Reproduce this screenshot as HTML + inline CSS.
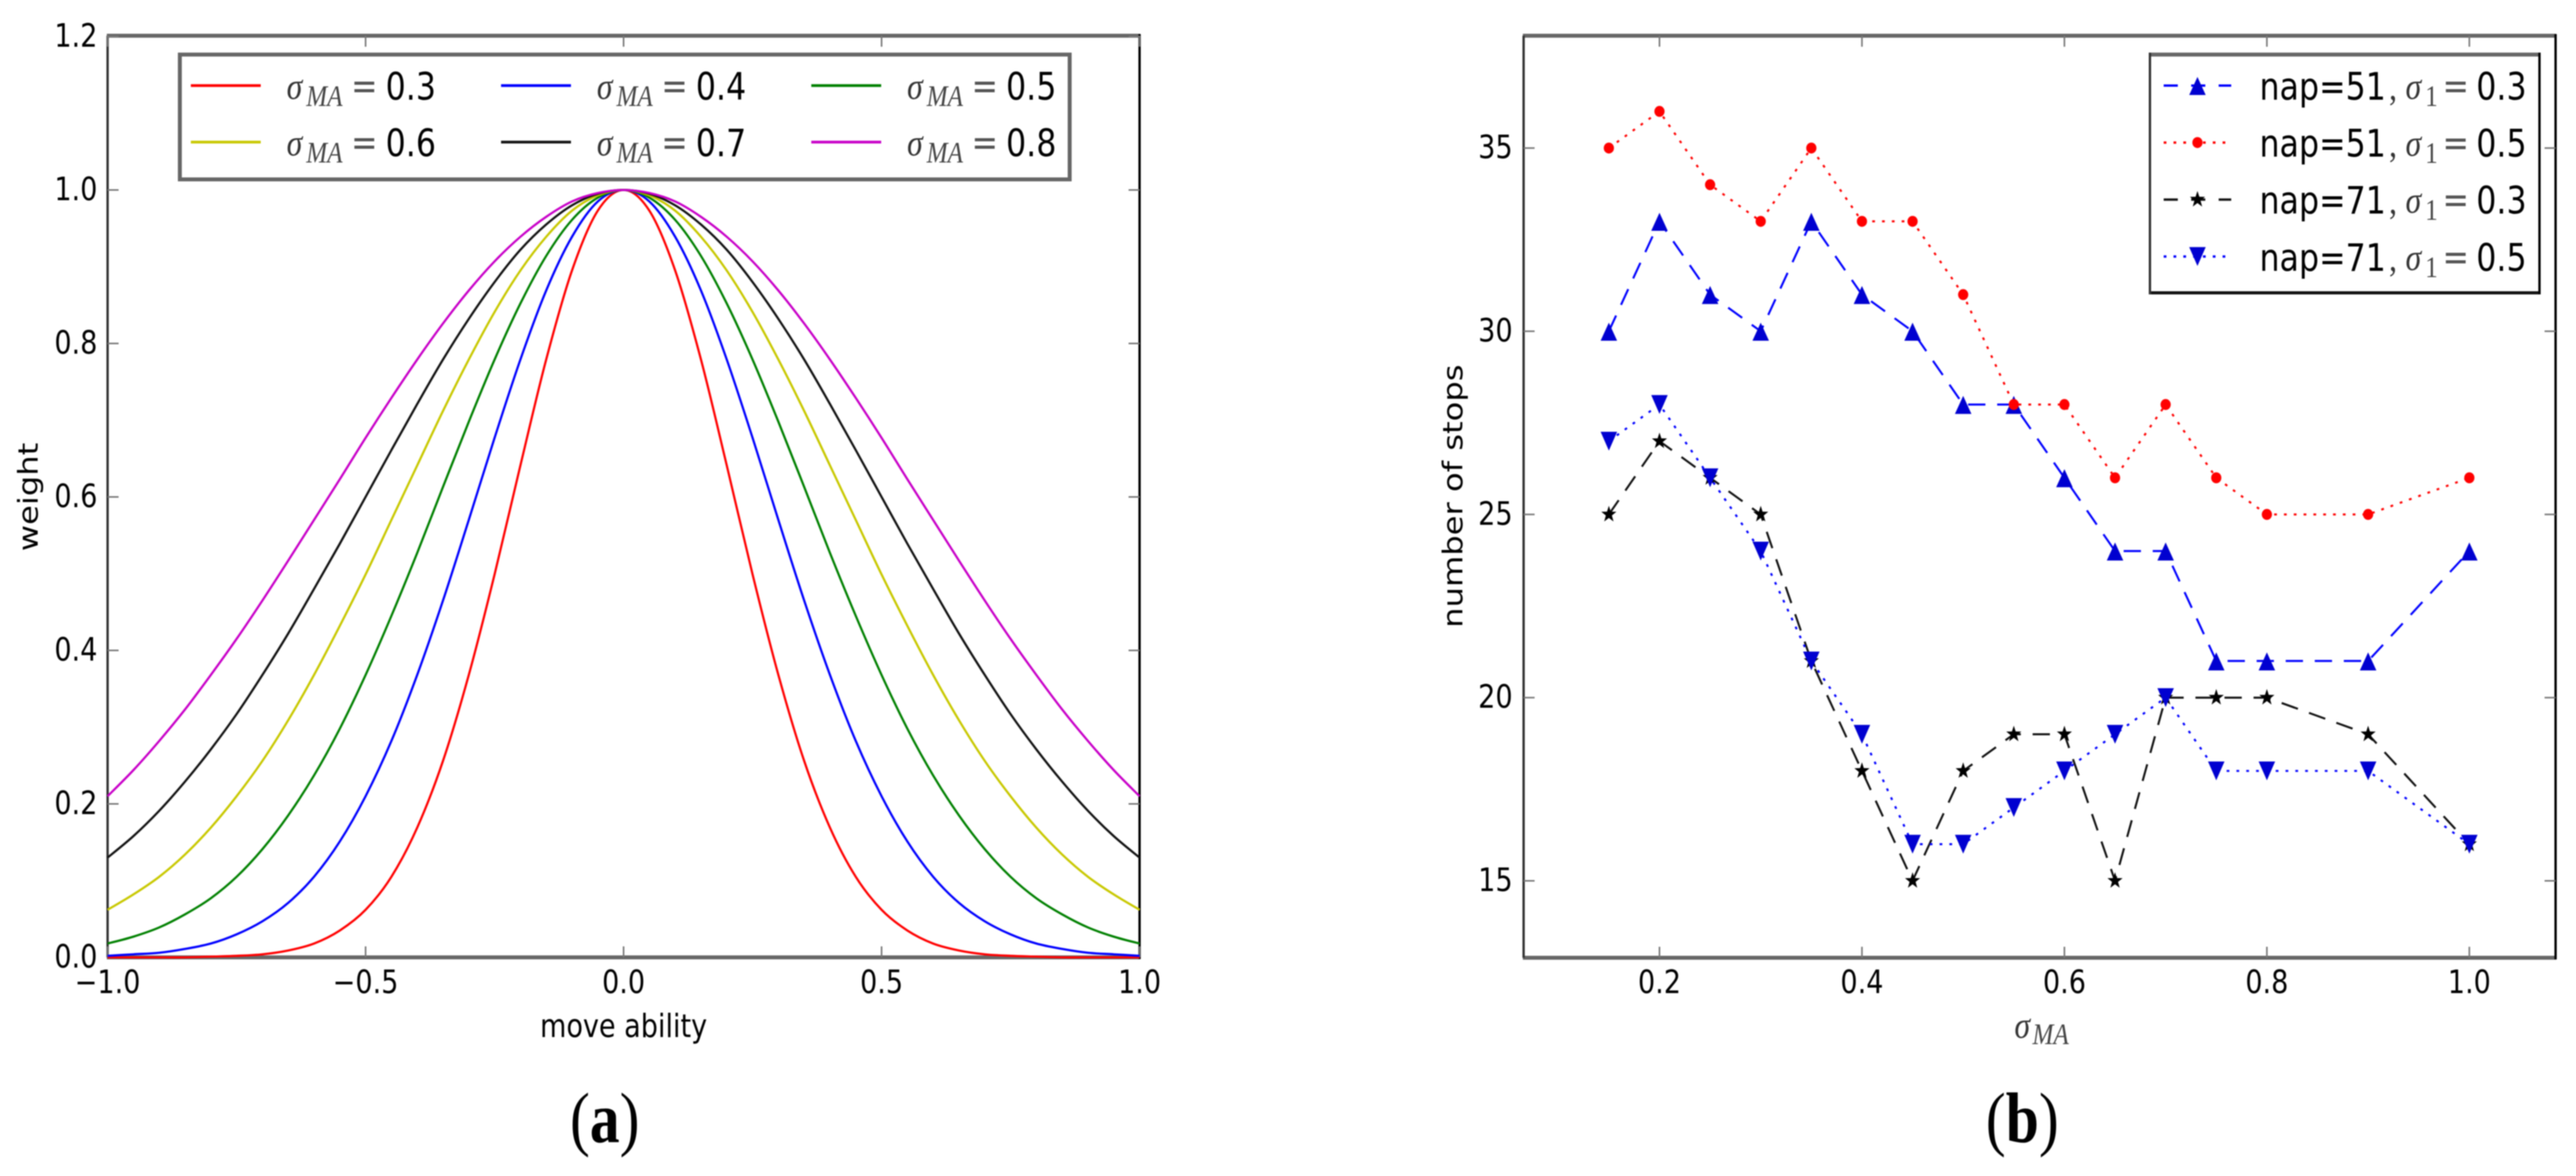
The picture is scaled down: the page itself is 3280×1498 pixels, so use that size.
<!DOCTYPE html>
<html lang="en">
<head>
<meta charset="utf-8">
<title>Move ability weight and number of stops</title>
<style>
html,body{margin:0;padding:0;background:#fff;}
svg{display:block;filter:blur(0.7px);}
text{fill:#000;}
.sans{font-family:"DejaVu Sans","Liberation Sans",sans-serif;}
.serif{font-family:"Liberation Serif",serif;}
</style>
</head>
<body>
<svg id="figure" xmlns="http://www.w3.org/2000/svg" width="3280" height="1498" viewBox="0 0 3280 1498">
  <rect x="0" y="0" width="3280" height="1498" fill="#fff"/>
  <g id="panel-a"></g>
  <g id="panel-b"></g>

  <text class="sans" font-size="41" text-anchor="middle" transform="translate(794,1321) scale(.84,1)">move ability</text>
  <text class="sans" font-size="41" text-anchor="middle" transform="translate(48,633) scale(.84,1) rotate(-90)">weight</text>
  <text class="sans" font-size="41" text-anchor="middle" transform="translate(1862,632) scale(.84,1) rotate(-90)">number of stops</text>
  <g>
    <text class="serif" font-size="48" font-style="italic" style="fill:#333" transform="translate(2565,1322) scale(.84,1)">σ</text>
    <text class="serif" font-size="38" font-style="italic" style="fill:#444" transform="translate(2588,1330) scale(.84,1)">MA</text>
  </g>
  <text class="serif" font-size="76" text-anchor="middle" transform="translate(770,1455) scale(1,1.2)">(<tspan font-weight="bold">a</tspan>)</text>
  <text class="serif" font-size="76" text-anchor="middle" transform="translate(2575,1455) scale(1,1.2)">(<tspan font-weight="bold">b</tspan>)</text>
</svg>
<script>
// ---------- Panel (a) data ----------
const weightX = [-1.0,-0.95,-0.9,-0.85,-0.8,-0.75,-0.7,-0.65,-0.6,-0.55,-0.5,-0.45,-0.4,-0.35,-0.3,-0.25,-0.2,-0.15,-0.1,-0.05,0,0.05,0.1,0.15,0.2,0.25,0.3,0.35,0.4,0.45,0.5,0.55,0.6,0.65,0.7,0.75,0.8,0.85,0.9,0.95,1.0];
const weightSigma03 = [0,0,0,0,0.001,0.002,0.004,0.009,0.018,0.035,0.062,0.105,0.169,0.256,0.368,0.499,0.641,0.779,0.895,0.973,1,0.973,0.895,0.779,0.641,0.499,0.368,0.256,0.169,0.105,0.062,0.035,0.018,0.009,0.004,0.002,0.001,0,0,0,0];
const weightSigma04 = [0.002,0.004,0.006,0.011,0.018,0.030,0.047,0.071,0.105,0.151,0.210,0.282,0.368,0.465,0.570,0.677,0.779,0.869,0.939,0.985,1,0.985,0.939,0.869,0.779,0.677,0.570,0.465,0.368,0.282,0.210,0.151,0.105,0.071,0.047,0.030,0.018,0.011,0.006,0.004,0.002];
const weightSigma05 = [0.018,0.027,0.039,0.056,0.077,0.105,0.141,0.185,0.237,0.298,0.368,0.445,0.527,0.613,0.698,0.779,0.852,0.914,0.961,0.990,1,0.990,0.961,0.914,0.852,0.779,0.698,0.613,0.527,0.445,0.368,0.298,0.237,0.185,0.141,0.105,0.077,0.056,0.039,0.027,0.018];
const weightSigma06 = [0.062,0.082,0.105,0.134,0.169,0.210,0.256,0.309,0.368,0.432,0.499,0.570,0.641,0.712,0.779,0.841,0.895,0.939,0.973,0.993,1,0.993,0.973,0.939,0.895,0.841,0.779,0.712,0.641,0.570,0.499,0.432,0.368,0.309,0.256,0.210,0.169,0.134,0.105,0.082,0.062];
const weightSigma07 = [0.130,0.158,0.191,0.229,0.271,0.317,0.368,0.422,0.480,0.539,0.600,0.661,0.721,0.779,0.832,0.880,0.922,0.955,0.980,0.995,1,0.995,0.980,0.955,0.922,0.880,0.832,0.779,0.721,0.661,0.600,0.539,0.480,0.422,0.368,0.317,0.271,0.229,0.191,0.158,0.130];
const weightSigma08 = [0.210,0.244,0.282,0.323,0.368,0.415,0.465,0.517,0.570,0.623,0.677,0.729,0.779,0.826,0.869,0.907,0.939,0.965,0.985,0.996,1,0.996,0.985,0.965,0.939,0.907,0.869,0.826,0.779,0.729,0.677,0.623,0.570,0.517,0.465,0.415,0.368,0.323,0.282,0.244,0.210];
const weightLabels = ['0.3','0.4','0.5','0.6','0.7','0.8'];
const xTicksA = [-1,-0.5,0,0.5,1];
const xTickLabelsA = ['\u22121.0','\u22120.5','0.0','0.5','1.0'];
const yTicksA = [0,0.2,0.4,0.6,0.8,1.0,1.2];
const yTickLabelsA = ['0.0','0.2','0.4','0.6','0.8','1.0','1.2'];

// ---------- Panel (b) data ----------
const sigmaMA = [0.15,0.2,0.25,0.3,0.35,0.4,0.45,0.5,0.55,0.6,0.65,0.7,0.75,0.8,0.9,1.0];
const stopsNap51S03 = [30,33,31,30,33,31,30,28,28,26,24,24,21,21,21,24];
const stopsNap51S05 = [35,36,34,33,35,33,33,31,28,28,26,28,26,25,25,26];
const stopsNap71S03 = [25,27,26,25,21,18,15,18,19,19,15,20,20,20,19,16];
const stopsNap71S05 = [27,28,26,24,21,19,16,16,17,18,19,20,18,18,18,16];
const stopLabels = ['51','51','71','71'];
const stopSigmaLabels = ['0.3','0.5','0.3','0.5'];
const xTicksB = [0.2,0.4,0.6,0.8,1.0];
const xTickLabelsB = ['0.2','0.4','0.6','0.8','1.0'];
const yTicksB = [15,20,25,30,35];
const yTickLabelsB = ['15','20','25','30','35'];

// ---------- Axis functions ----------
const xA = v => 794 + v * 657;
const yA = v => 1219.5 - v * 977.5;
const xB = v => 2113 + (v - 0.2) * 1289;
const yB = v => 1122 - (v - 15) * 46.67;

const NS = 'http://www.w3.org/2000/svg';
const panelA = document.getElementById('panel-a');
const panelB = document.getElementById('panel-b');

function mk(parent, tag, attrs) {
  const el = document.createElementNS(NS, tag);
  for (const k in attrs) el.setAttribute(k, attrs[k]);
  parent.appendChild(el);
  return el;
}
function label(parent, str, x, y, size, anchor, cls, fill) {
  const t = mk(parent, 'text', {
    'font-size': size,
    'text-anchor': anchor,
    'class': cls,
    transform: 'translate(' + x + ',' + y + ') scale(.84,1)'
  });
  t.style.fill = fill || '#000';
  t.textContent = str;
  return t;
}
function smoothPath(pts) {
  let d = 'M' + pts[0][0] + ' ' + pts[0][1];
  for (let i = 0; i < pts.length - 1; i++) {
    const p0 = pts[Math.max(i - 1, 0)], p1 = pts[i], p2 = pts[i + 1], p3 = pts[Math.min(i + 2, pts.length - 1)];
    const c1x = p1[0] + (p2[0] - p0[0]) / 6, c1y = p1[1] + (p2[1] - p0[1]) / 6;
    const c2x = p2[0] - (p3[0] - p1[0]) / 6, c2y = p2[1] - (p3[1] - p1[1]) / 6;
    d += 'C' + c1x + ' ' + c1y + ' ' + c2x + ' ' + c2y + ' ' + p2[0] + ' ' + p2[1];
  }
  return d;
}
function frame(parent, l, r, t, b) {
  mk(parent, 'rect', {x: l - 1, y: t - 2.5, width: r - l + 2, height: 5, fill: '#666'});
  mk(parent, 'rect', {x: l - 1, y: b - 2.5, width: r - l + 2, height: 5, fill: '#666'});
  mk(parent, 'rect', {x: l - 1.5, y: t, width: 3, height: b - t, fill: '#333'});
  mk(parent, 'rect', {x: r - 1.5, y: t - 2, width: 3, height: b - t + 4, fill: '#000'});
}
function ticks(parent, l, r, t, b, xs, ys, xLabels, yLabels, xLabelY, yLabelX) {
  xs.forEach((px, i) => {
    const bot = mk(parent, 'line', {x1: px, x2: px, y1: b, y2: b - 14, stroke: '#777', 'stroke-width': 2});
    
    
    const top = mk(parent, 'line', {x1: px, x2: px, y1: t, y2: t + 14, stroke: '#777', 'stroke-width': 2});
    
    
    const lb = label(parent, xLabels[i], px, xLabelY, 41, 'middle', 'sans');
    
    
  });
  ys.forEach((py, i) => {
    const a = mk(parent, 'line', {x1: l, x2: l + 14, y1: py, y2: py, stroke: '#777', 'stroke-width': 2});
    
    
    const c = mk(parent, 'line', {x1: r, x2: r - 14, y1: py, y2: py, stroke: '#777', 'stroke-width': 2});
    
    
    const lb = label(parent, yLabels[i], yLabelX, py + 13, 41, 'end', 'sans');
    
    
  });
}
function marker(parent, type, cx, cy, color) {
  if (type === 'up') {
    return mk(parent, 'polygon', {points: cx + ',' + (cy - 11) + ' ' + (cx - 10.5) + ',' + (cy + 12) + ' ' + (cx + 10.5) + ',' + (cy + 12), fill: color});
  }
  if (type === 'down') {
    return mk(parent, 'polygon', {points: (cx - 10.5) + ',' + (cy - 12) + ' ' + (cx + 10.5) + ',' + (cy - 12) + ' ' + cx + ',' + (cy + 12), fill: color});
  }
  if (type === 'dot') {
    return mk(parent, 'ellipse', {cx: cx, cy: cy, rx: 6.5, ry: 7, fill: color});
  }
  const pts = [];
  for (let k = 0; k < 10; k++) {
    const rad = k % 2 ? 4.4 : 11;
    const ang = -Math.PI / 2 + k * Math.PI / 5;
    pts.push((cx + rad * 0.92 * Math.cos(ang)) + ',' + (cy + rad * Math.sin(ang)));
  }
  return mk(parent, 'polygon', {points: pts.join(' '), fill: color});
}

// ---------- Panel (a) ----------
frame(panelA, 137, 1451, 45.5, 1219.5);
ticks(panelA, 137, 1451, 45.5, 1219.5, xTicksA.map(xA), yTicksA.map(yA), xTickLabelsA, yTickLabelsA, 1265, 124);

const weightSeries = [
  [weightSigma03, '#ff0000'],
  [weightSigma04, '#0000ff'],
  [weightSigma05, '#008000'],
  [weightSigma06, '#c8c800'],
  [weightSigma07, '#111111'],
  [weightSigma08, '#c800c8']
];
weightSeries.forEach((s, i) => {
  const p = mk(panelA, 'path', {
    d: smoothPath(weightX.map((x, j) => [xA(x), yA(s[0][j])])),
    fill: 'none', stroke: s[1], 'stroke-width': 2.8
  });
  
  
});

const legendA = mk(panelA, 'g', {});


mk(legendA, 'rect', {x: 229, y: 69.5, width: 1133, height: 159, fill: '#fff', stroke: '#666', 'stroke-width': 5});
weightSeries.forEach((s, i) => {
  const col = i % 3, row = Math.floor(i / 3);
  const dx = col * 395, y = 109 + row * 72;
  const entry = mk(legendA, 'g', {});
  
  
  mk(entry, 'line', {x1: 243 + dx, x2: 332 + dx, y1: y, y2: y, stroke: s[1], 'stroke-width': 3.5});
  label(entry, '\u03c3', 365 + dx, y + 17, 48, 'start', 'serif', '#333').setAttribute('font-style', 'italic');
  label(entry, 'MA', 390 + dx, y + 26, 38, 'start', 'serif', '#444').setAttribute('font-style', 'italic');
  label(entry, '=', 447 + dx, y + 17, 48, 'start', 'sans', '#555');
  label(entry, weightLabels[i], 491 + dx, y + 18, 48, 'start', 'sans');
});

// ---------- Panel (b) ----------
frame(panelB, 1940, 3254, 45.5, 1220);
ticks(panelB, 1940, 3254, 45.5, 1220, xTicksB.map(xB), yTicksB.map(yB), xTickLabelsB, yTickLabelsB, 1265, 1926);

const stopSeries = [
  [stopsNap51S03, '#0000ff', '22 15', 'up', '#0000d0'],
  [stopsNap51S05, '#ff0000', '3.5 9', 'dot', '#ff0000'],
  [stopsNap71S03, '#111111', '22 15', 'star', '#000000'],
  [stopsNap71S05, '#0000ff', '3.5 9', 'down', '#0000d0']
];
stopSeries.forEach((s, i) => {
  const pts = sigmaMA.map((x, j) => [xB(x), yB(s[0][j])]);
  const line = mk(panelB, 'polyline', {
    points: pts.map(p => p.join(',')).join(' '),
    fill: 'none', stroke: s[1], 'stroke-width': 2.6, 'stroke-dasharray': s[2]
  });
  
  
  pts.forEach(p => {
    const m = marker(panelB, s[3], p[0], p[1], s[4]);
    
    
  });
});

const legendB = mk(panelB, 'g', {});


mk(legendB, 'rect', {x: 2737, y: 69.5, width: 496, height: 304, fill: '#fff'});
mk(legendB, 'rect', {x: 2736, y: 67, width: 498, height: 5, fill: '#666'});
mk(legendB, 'rect', {x: 2736, y: 371, width: 498, height: 4, fill: '#111'});
mk(legendB, 'rect', {x: 2736, y: 67, width: 3, height: 308, fill: '#333'});
mk(legendB, 'rect', {x: 3232, y: 67, width: 3, height: 308, fill: '#000'});
stopSeries.forEach((s, i) => {
  const y = 109 + i * 72.6;
  const entry = mk(legendB, 'g', {});
  
  
  mk(entry, 'line', {x1: 2755, x2: 2841, y1: y, y2: y, stroke: s[1], 'stroke-width': 3, 'stroke-dasharray': s[2] === '22 15' ? '18 17' : '3.5 9'});
  marker(entry, s[3], 2798, y, s[4]);
  label(entry, 'nap=' + stopLabels[i], 2877, y + 18, 48, 'start', 'sans');
  label(entry, ',', 3042, y + 18, 48, 'start', 'serif', '#333');
  label(entry, '\u03c3', 3063, y + 17, 48, 'start', 'serif', '#333').setAttribute('font-style', 'italic');
  label(entry, '1', 3088, y + 26, 38, 'start', 'serif', '#444');
  label(entry, '=', 3110, y + 17, 48, 'start', 'sans', '#555');
  label(entry, stopSigmaLabels[i], 3153, y + 18, 48, 'start', 'sans');
});
</script>
</body>
</html>
